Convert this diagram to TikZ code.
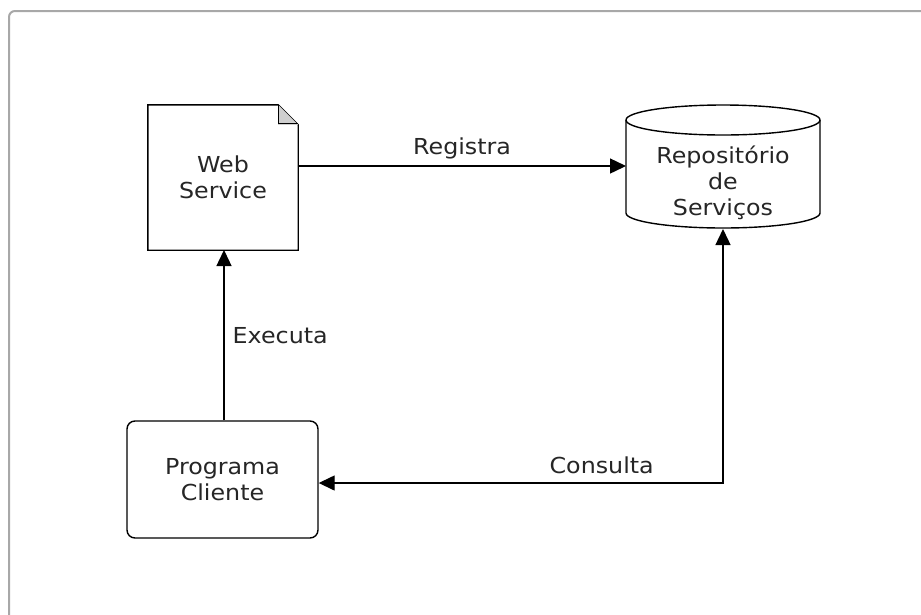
\documentclass[tikz,border=0pt]{standalone}
\usepackage{fontspec}
\setmainfont[FakeStretch=1.08]{DejaVu Sans}
\usetikzlibrary{arrows.meta}
\definecolor{framegray}{HTML}{A8A8A8}
\definecolor{foldgray}{HTML}{CFCFCF}
\definecolor{textdark}{HTML}{262626}
\tikzset{
  lbl/.style={text=textdark, font=\fontsize{22}{26}\selectfont, align=center, inner sep=0pt},
  boxarea/.style={draw=none, inner sep=0pt},
  tip/.tip={Triangle[length=16pt,width=15pt]},
  link/.style={line width=1.4pt, -tip},
  twoway/.style={line width=1.4pt, tip-tip},
  outline/.style={line width=1.4pt}
}
\begin{document}
\begin{tikzpicture}[x=1pt, y=-1pt]
  \useasboundingbox (0,0) rectangle (921,614);
  \clip (0,0) rectangle (921,614);
  \fill[white] (0,0) rectangle (921,614);
  % outer panel frame, running off the right and bottom edges
  \draw[framegray, line width=2pt, rounded corners=6pt] (9,640) -- (9,11) -- (940,11);

  % Web Service document with folded corner
  \node[boxarea, minimum width=150pt, minimum height=145pt] (ws) at (223,177.5) {};
  \draw[outline] (ws.south west) -- (ws.north west) -- ([xshift=-20pt]ws.north east)
    -- ([yshift=-20pt]ws.north east) -- (ws.south east) -- cycle;
  \fill[foldgray] ([xshift=-20pt]ws.north east) -- ([xshift=-20pt,yshift=-20pt]ws.north east)
    -- ([yshift=-20pt]ws.north east) -- cycle;
  \draw[line width=1pt] ([xshift=-20pt]ws.north east) -- ([xshift=-20pt,yshift=-19pt]ws.north east)
    -- ([yshift=-19pt]ws.north east);
  \node[lbl] (wst) at (ws.center) {Web\\Service};

  % Service repository cylinder
  \node[boxarea, minimum width=194pt, minimum height=125pt] (repo) at (723,167.5) {};
  \draw[outline] (723,120) ellipse [x radius=97pt, y radius=15pt];
  \draw[outline] (626,120) -- (626,213) arc[start angle=180, end angle=360, x radius=97pt, y radius=15pt] -- (820,120);
  \node[lbl] (repot) at (723,183) {Repositório\\de\\Serviços};

  % Client program
  \node[boxarea, draw, line width=1.4pt, rounded corners=8pt, minimum width=191pt, minimum height=117pt] (pc) at (222.5,479.5) {};
  \node[lbl] (pct) at (pc.center) {Programa\\Cliente};

  % connectors
  \coordinate (repoleft) at (626,166);
  \coordinate (repobottom) at (723,229);
  \coordinate (wsbottom) at (224,250);
  \draw[link] (ws.east |- repoleft) -- node[lbl, above=6pt] {Registra} (repoleft);
  \draw[link] (pc.north -| wsbottom) -- node[lbl, right=8pt] {Executa} (wsbottom);
  \coordinate (bend) at (723,483);
  \draw[twoway] (repobottom) -- (bend) -- node[lbl, above=8pt, pos=0.3] {Consulta} (pc.east |- bend);
\end{tikzpicture}
\end{document}
